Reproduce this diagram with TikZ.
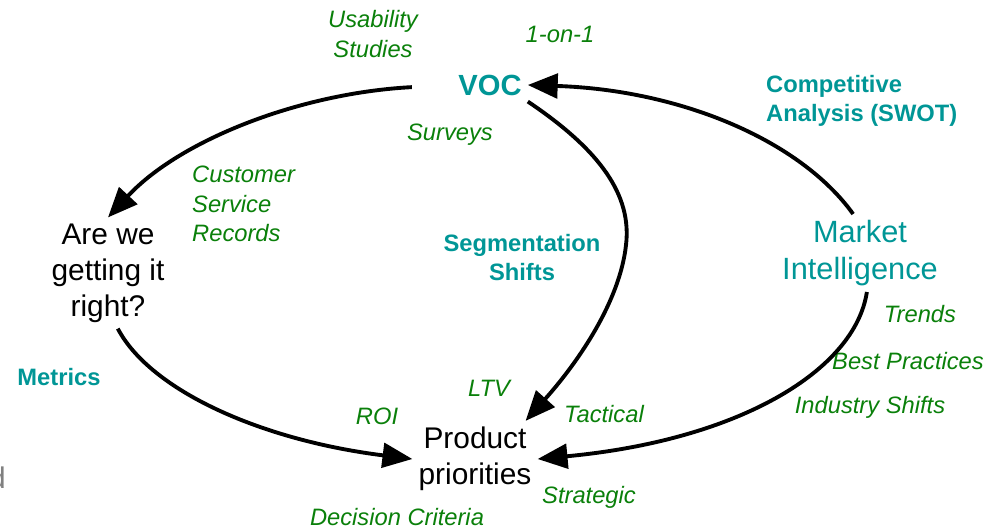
\documentclass[tikz,border=0pt]{standalone}
\usepackage{fontspec}
\setmainfont{Liberation Sans}
\usetikzlibrary{arrows.meta}

\definecolor{vocteal}{RGB}{0,150,150}
\definecolor{factorgreen}{RGB}{10,128,10}

\tikzset{
  topic/.style={align=center, font=\fontsize{17}{20.5}\selectfont},
  source/.style={text=vocteal, align=left, font=\bfseries\fontsize{13.5}{16.5}\selectfont},
  factor/.style={text=factorgreen, align=center, font=\itshape\fontsize{13.5}{16.8}\selectfont},
  flow/.style={line width=2.2pt, -{Triangle[length=17pt,width=14pt]}},
}

\begin{document}
\begin{tikzpicture}[x=0.02cm, y=-0.02cm]
  \useasboundingbox (0,0) rectangle (990,529);

% Nodes
  \node[topic, text=vocteal, font=\bfseries\fontsize{16.6}{20}\selectfont] (voc) at (490,85) {VOC};
  \node[topic] (right) at (108,273) {Are we\\getting it\\right?};
  \node[topic] (prod) at (475,459) {Product\\priorities};
  \node[topic, text=vocteal, font=\fontsize{17.5}{21}\selectfont] (mi) at (860,253) {Market\\Intelligence};

  \node[source, anchor=west] (swot) at (760,101) {Competitive\\Analysis (SWOT)};
  \node[source, align=center] (seg) at (522,258) {Segmentation\\Shifts};
  \node[source] (metrics) at (59,377) {Metrics};

  \node[factor] (usab) at (373,34) {Usability\\Studies};
  \node[factor] (one) at (560,34) {1-on-1};
  \node[factor] (surv) at (450,135) {Surveys};
  \node[factor, align=left, anchor=west] (csr) at (186,204) {Customer\\Service\\Records};
  \node[factor] (trends) at (920,314) {Trends};
  \node[factor] (best) at (908,361) {Best Practices};
  \node[factor] (ind) at (870,407) {Industry Shifts};
  \node[factor] (ltv) at (489,388) {LTV};
  \node[factor] (roi) at (377,416) {ROI};
  \node[factor] (tact) at (604,414) {Tactical};
  \node[factor] (strat) at (589,497) {Strategic};
  \node[factor] (crit) at (397,517) {Decision Criteria};
  \node[text=gray, font=\fontsize{17}{20}\selectfont, anchor=base east, inner sep=0] (cut) at (6,488) {d};

% Edges
  \draw[flow, shorten <=23pt] (voc.west) .. controls (300,93) and (180,140) .. (right.north);
  \draw[flow] (right.-80) .. controls (150,390) and (260,440) .. (prod.west);
  \draw[flow] (voc.south east) .. controls (600,150) and (632,195) .. (626,245)
              .. controls (620,300) and (580,360) .. (prod.37);
  \draw[flow] (mi.-80) .. controls (855,370) and (740,440) .. (prod.east);
  \draw[flow] (mi.100) .. controls (800,140) and (680,90) .. (voc.east);

\end{tikzpicture}
\end{document}
